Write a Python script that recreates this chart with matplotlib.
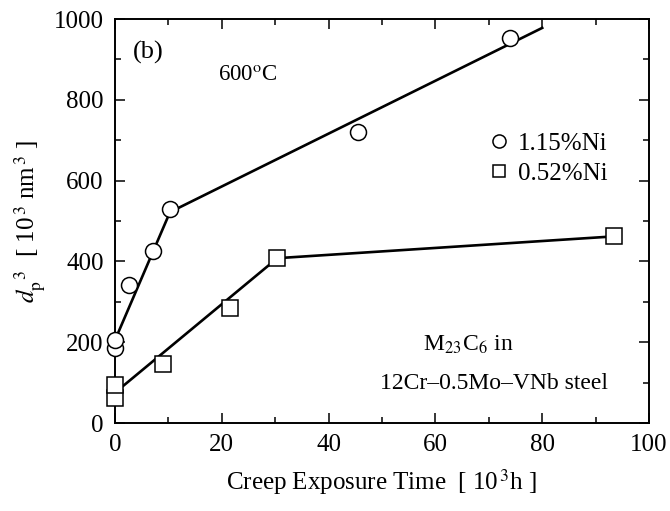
import matplotlib.pyplot as plt
from matplotlib.ticker import MultipleLocator

plt.rcParams["font.family"] = ["Liberation Serif", "DejaVu Serif"]
plt.rcParams["mathtext.fontset"] = "stix"

# measured points
ni115_time = [0, 0, 2.6, 7.1, 10.3, 45.5, 74]
ni115_d3 = [185, 205, 341, 425, 530, 720, 952]
ni052_time = [0, 0, 9, 21.5, 30.4, 93.5]
ni052_d3 = [62, 94, 146, 284, 408, 462]

# fitted lines
fit115_time = [0, 10.3, 80]
fit115_d3 = [205, 522, 978]
fit052_time = [0, 30.4, 93.5]
fit052_d3 = [75, 408, 462]

fig = plt.figure(figsize=(6.7, 5.11), dpi=100)
ax = fig.add_axes([0.1716, 0.1722, 0.7971, 0.7906])

ax.plot(fit115_time, fit115_d3, color="black", lw=1.9, zorder=2)
ax.plot(fit052_time, fit052_d3, color="black", lw=1.9, zorder=2)
ax.plot(ni115_time, ni115_d3, "o", ms=11.5, mfc="white", mec="black", mew=1.1,
        ls="none", zorder=3, clip_on=False, label="1.15%Ni")
ax.plot(ni052_time, ni052_d3, "s", ms=11, mfc="white", mec="black", mew=1.1,
        ls="none", zorder=3, clip_on=False, label="0.52%Ni")

ax.set_xlim(0, 100)
ax.set_ylim(0, 1000)
ax.xaxis.set_major_locator(MultipleLocator(20))
ax.xaxis.set_minor_locator(MultipleLocator(10))
ax.yaxis.set_major_locator(MultipleLocator(200))
ax.yaxis.set_minor_locator(MultipleLocator(100))
ax.tick_params(which="both", direction="in", top=True, right=True, width=1.1)
ax.tick_params(which="major", length=7, labelsize=18, pad=8)
ax.tick_params(which="minor", length=4)
for s in ax.spines.values():
    s.set_linewidth(1.4)

ax.set_xlabel(r"Creep Exposure Time  [ 10$^{\,3}$h ]", fontsize=18, labelpad=8)
ax.set_ylabel(r"$d_{\rm p}^{\ \ 3}$  [ 10$^{\,3}$ nm$^{\,3}$ ]", fontsize=18, labelpad=4)

ax.text(0.034, 0.916, "(b)", transform=ax.transAxes, fontsize=19, va="center")
ax.text(0.193, 0.859, r"600$^{\rm o}$C", transform=ax.transAxes, fontsize=16.5, va="center")
ax.text(0.577, 0.193, r"M$_{23}$C$_6$ in", transform=ax.transAxes, fontsize=17, va="center")
ax.text(0.496, 0.099, "12Cr\u20130.5Mo\u2013VNb steel", transform=ax.transAxes,
        fontsize=17, va="center")

ax.legend(loc="center left", bbox_to_anchor=(0.70, 0.655), frameon=False, fontsize=18,
          handlelength=0.8, handletextpad=0.35, labelspacing=0.3, borderpad=0,
          borderaxespad=0, markerscale=0.82)

fig.savefig("out.png", dpi=100)
